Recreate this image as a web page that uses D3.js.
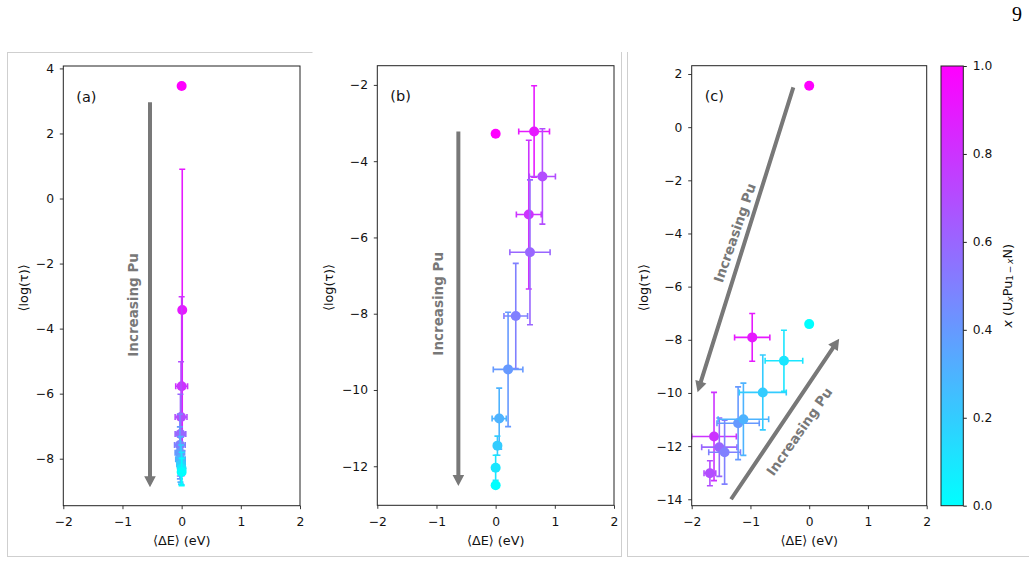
<!DOCTYPE html>
<html><head><meta charset="utf-8">
<script src="https://cdn.jsdelivr.net/npm/d3@7"></script>
<style>
body{margin:0;background:#fff}
svg{display:block}
text{font-family:"DejaVu Sans",sans-serif}
</style>
</head><body>
<svg id="chart" width="1029" height="564"></svg>
<script>
// ---------- data ----------
const composition = [1.0, 0.9, 0.8, 0.7, 0.6, 0.5, 0.4, 0.3, 0.2, 0.1, 0.0];
const xTicks = [-2, -1, 0, 1, 2];
const cbTicks = [0.0, 0.2, 0.4, 0.6, 0.8, 1.0];

// panel (a)
const aDE      = [0.0, 0.01, 0.0, -0.01, -0.02, -0.03, -0.03, -0.02, -0.01, 0.0, 0.0];
const aDEerr   = [0, 0.02, 0.1, 0.1, 0.09, 0.09, 0.08, 0.08, 0.07, 0.06, 0.05];
const aTau     = [3.46, -3.43, -5.77, -6.72, -7.24, -7.58, -7.82, -8.02, -8.18, -8.30, -8.41];
const aTauErr  = [0, 4.33, 2.75, 1.70, 1.22, 0.95, 0.80, 0.70, 0.60, 0.50, 0.42];
const aYTicks  = [-8, -6, -4, -2, 0, 2, 4];

// panel (b)
const bDE      = [0.0, 0.65, 0.56, 0.79, 0.58, 0.34, 0.21, 0.06, 0.03, 0.0, 0.0];
const bDEerr   = [0, 0.26, 0.21, 0.22, 0.34, 0.20, 0.25, 0.12, 0.04, 0.02, 0];
const bTau     = [-3.28, -3.22, -5.40, -4.40, -6.39, -8.06, -9.46, -10.75, -11.46, -12.04, -12.50];
const bTauErr  = [0, 1.20, 1.95, 1.25, 1.90, 1.38, 1.50, 0.80, 0.25, 0.33, 0];
const bYTicks  = [-12, -10, -8, -6, -4, -2];

// panel (c)
const cDE      = [0.0, -0.97, -1.62, -1.69, -1.53, -1.44, -1.21, -1.12, -0.79, -0.43, 0.0];
const cDEerr   = [0, 0.30, 0.38, 0.10, 0.30, 0.27, 0.36, 0.43, 0.40, 0.32, 0];
const cTau     = [1.56, -7.91, -11.64, -13.02, -12.04, -12.23, -11.14, -10.99, -9.98, -8.79, -7.41];
const cTauErr  = [0, 0.90, 1.66, 0.47, 1.10, 1.20, 1.37, 1.36, 1.41, 1.15, 0];
const cYTicks  = [-14, -12, -10, -8, -6, -4, -2, 0, 2];

// annotations (data coordinates)
const aArrows = [[-0.535, 2.96, -0.535, -8.88]];
const bArrows = [[-0.63, -3.22, -0.63, -12.52]];
const cArrows = [[-0.27, 1.50, -1.90, -9.97], [-1.33, -14.0, 0.51, -7.96]];
const aNotes = [{x: -0.82, y: -3.27, rot: -90}];
const bNotes = [{x: -0.97, y: -7.74, rot: -90}];
const cNotes = [{x: -1.27, y: -3.98, rot: -71}, {x: -0.17, y: -11.45, rot: -55}];
const noteText = "Increasing Pu";

// ---------- drawing ----------
const svg = d3.select("#chart");
const cool = t => d3.rgb(255 * t, 255 * (1 - t), 255).formatHex();
const GRAY = "#787878";

// faint page frames
svg.append("path")
  .attr("d", "M7,52.5H312.5M7.5,52V557M7,556.5H622M621.5,52V557M627.5,52V557M627,556.5H1029")
  .attr("fill", "none").attr("stroke", "#cfcfcf").attr("stroke-width", 1);

// page number
svg.append("text").attr("x", 1017).attr("y", 21).attr("text-anchor", "middle")
  .style("font-family", "'Liberation Serif', 'DejaVu Serif', serif").style("font-size", "20px")
  .text("9");

function drawPanel(p) {
  const g = svg.append("g");
  const x = d3.scaleLinear().domain([xTicks[0], xTicks[xTicks.length - 1]]).range([p.L, p.R]);
  let lo = d3.min(p.tau.map((v, i) => v - p.tauErr[i]));
  let hi = d3.max(p.tau.map((v, i) => v + p.tauErr[i]));
  const pad = (hi - lo) * 0.05;
  const y = d3.scaleLinear().domain([lo - pad, hi + pad]).range([p.B, p.T]);

  const clipId = "clip" + p.id;
  svg.append("clipPath").attr("id", clipId).append("rect")
    .attr("x", p.L).attr("y", p.T).attr("width", p.R - p.L).attr("height", p.B - p.T);
  const plot = g.append("g").attr("clip-path", `url(#${clipId})`);

  // arrows
  p.arrows.forEach(a => {
    const x1 = x(a[0]), y1 = y(a[1]), x2 = x(a[2]), y2 = y(a[3]);
    const ang = Math.atan2(y2 - y1, x2 - x1);
    const len = Math.hypot(x2 - x1, y2 - y1);
    const hl = 11, hw = 5.8, sw = 2;
    const ag = plot.append("g").attr("transform", `translate(${x1},${y1}) rotate(${ang * 180 / Math.PI})`);
    ag.append("path")
      .attr("d", `M0,${-sw}L${len - hl},${-sw}L${len - hl},${-hw}L${len},0L${len - hl},${hw}L${len - hl},${sw}L0,${sw}Z`)
      .attr("fill", GRAY);
  });

  // notes
  p.notes.forEach(n => {
    plot.append("text")
      .attr("transform", `translate(${x(n.x)},${y(n.y)}) rotate(${n.rot})`)
      .attr("text-anchor", "middle").attr("dominant-baseline", "central")
      .attr("fill", GRAY).style("font-weight", "bold").style("font-size", "13.5px")
      .text(noteText);
  });

  // error bars + markers
  const cap = 3;
  composition.forEach((c, i) => {
    const col = cool(c);
    const cx = x(p.de[i]), cy = y(p.tau[i]);
    const eg = plot.append("g").attr("stroke", col).attr("stroke-width", 1.6).attr("fill", "none");
    if (p.tauErr[i] > 0) {
      const yt = y(p.tau[i] + p.tauErr[i]), yb = y(p.tau[i] - p.tauErr[i]);
      eg.append("line").attr("x1", cx).attr("x2", cx).attr("y1", yt).attr("y2", yb);
      eg.append("line").attr("x1", cx - cap).attr("x2", cx + cap).attr("y1", yt).attr("y2", yt);
      eg.append("line").attr("x1", cx - cap).attr("x2", cx + cap).attr("y1", yb).attr("y2", yb);
    }
    if (p.deErr[i] > 0) {
      const xl = x(p.de[i] - p.deErr[i]), xr = x(p.de[i] + p.deErr[i]);
      eg.append("line").attr("x1", xl).attr("x2", xr).attr("y1", cy).attr("y2", cy);
      eg.append("line").attr("x1", xl).attr("x2", xl).attr("y1", cy - cap).attr("y2", cy + cap);
      eg.append("line").attr("x1", xr).attr("x2", xr).attr("y1", cy - cap).attr("y2", cy + cap);
    }
    plot.append("circle").attr("cx", cx).attr("cy", cy).attr("r", 5).attr("fill", col);
  });

  // axes
  const xa = g.append("g").attr("transform", `translate(0,${p.B})`)
    .call(d3.axisBottom(x).tickValues(xTicks).tickSize(3.5).tickPadding(8.3).tickFormat(d3.format("d")));
  const ya = g.append("g").attr("transform", `translate(${p.L},0)`)
    .call(d3.axisLeft(y).tickValues(p.yTicks).tickSize(3.5).tickPadding(5.8).tickFormat(d3.format("d")));
  [xa, ya].forEach(a => {
    a.select(".domain").remove();
    a.selectAll("line").attr("stroke", "#222").attr("stroke-width", 0.9);
    a.selectAll("text").attr("fill", "#111").style("font-size", "12.3px").style("font-family", "'DejaVu Sans',sans-serif");
  });

  g.append("rect").attr("x", p.L).attr("y", p.T).attr("width", p.R - p.L).attr("height", p.B - p.T)
    .attr("fill", "none").attr("stroke", "#222").attr("stroke-width", 1);

  // labels
  g.append("text").attr("x", (p.L + p.R) / 2).attr("y", 540).attr("text-anchor", "middle")
    .attr("dominant-baseline", "central").style("font-size", "12.8px").attr("fill", "#111")
    .text("\u27E8\u0394E\u27E9 (eV)");
  g.append("text").attr("transform", `translate(${p.yLabX},${(p.T + p.B) / 2 + 2}) rotate(-90)`)
    .attr("text-anchor", "middle").attr("dominant-baseline", "central")
    .style("font-size", "12.8px").attr("fill", "#111")
    .text("\u27E8log(\u03C4)\u27E9");
  g.append("text").attr("x", p.L + 13).attr("y", p.T + 35.5)
    .style("font-size", "14.5px").attr("fill", "#111").text(p.tag);
}

drawPanel({id: "a", L: 63.3, R: 300, T: 66, B: 505.7, de: aDE, deErr: aDEerr, tau: aTau, tauErr: aTauErr,
  yTicks: aYTicks, arrows: aArrows, notes: aNotes, yLabX: 23.3, tag: "(a)"});
drawPanel({id: "b", L: 377.3, R: 614, T: 65.7, B: 505.3, de: bDE, deErr: bDEerr, tau: bTau, tauErr: bTauErr,
  yTicks: bYTicks, arrows: bArrows, notes: bNotes, yLabX: 328.3, tag: "(b)"});
drawPanel({id: "c", L: 691.7, R: 926.7, T: 65.7, B: 505.7, de: cDE, deErr: cDEerr, tau: cTau, tauErr: cTauErr,
  yTicks: cYTicks, arrows: cArrows, notes: cNotes, yLabX: 643.3, tag: "(c)"});

// colorbar
const cb = {L: 941, R: 963.3, T: 66, B: 505.7};
const grad = svg.append("defs").append("linearGradient").attr("id", "coolGrad")
  .attr("x1", 0).attr("y1", 1).attr("x2", 0).attr("y2", 0);
d3.range(0, 1.0001, 0.1).forEach(t => grad.append("stop").attr("offset", t).attr("stop-color", cool(t)));
svg.append("rect").attr("x", cb.L).attr("y", cb.T).attr("width", cb.R - cb.L).attr("height", cb.B - cb.T)
  .attr("fill", "url(#coolGrad)").attr("stroke", "#222").attr("stroke-width", 1);
const cbScale = d3.scaleLinear().domain([0, 1]).range([cb.B, cb.T]);
const cba = svg.append("g").attr("transform", `translate(${cb.R},0)`)
  .call(d3.axisRight(cbScale).tickValues(cbTicks).tickSize(3.5).tickPadding(6).tickFormat(d3.format(".1f")));
cba.select(".domain").remove();
cba.selectAll("line").attr("stroke", "#222");
cba.selectAll("text").attr("fill", "#111").style("font-size", "12.3px").style("font-family", "'DejaVu Sans',sans-serif");

const cbl = svg.append("text").attr("transform", `translate(1006.7,${(cb.T + cb.B) / 2}) rotate(-90)`)
  .attr("text-anchor", "middle").attr("dominant-baseline", "central")
  .style("font-size", "12.8px").attr("fill", "#111");
cbl.append("tspan").style("font-style", "italic").text("x");
cbl.append("tspan").text(" (U");
cbl.append("tspan").attr("dy", 3).style("font-size", "9px").style("font-style", "italic").text("x");
cbl.append("tspan").attr("dy", -3).text("Pu");
cbl.append("tspan").attr("dy", 3).style("font-size", "9px").text("1\u2009\u2212\u2009");
cbl.append("tspan").style("font-size", "9px").style("font-style", "italic").text("x");
cbl.append("tspan").attr("dy", -3).text("N)");
</script>
</body></html>
